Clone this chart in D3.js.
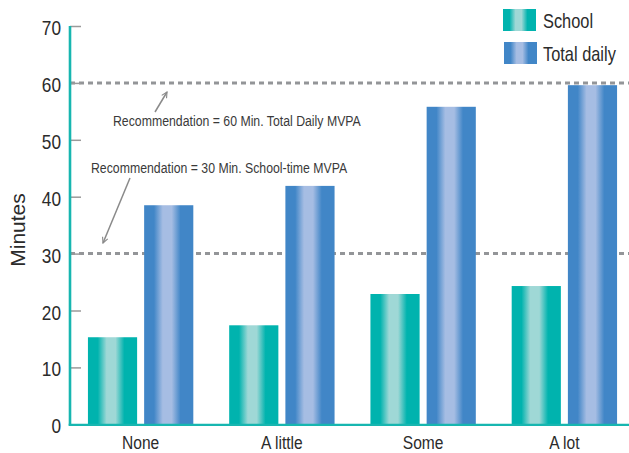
<!DOCTYPE html>
<html>
<head>
<meta charset="utf-8">
<script src="https://cdn.jsdelivr.net/npm/d3@7"></script>
<style>
  html, body { margin: 0; padding: 0; background: #fff; }
  svg { display: block; font-family: "Liberation Sans", Arial, sans-serif; }
</style>
</head>
<body>
<svg id="chart" width="629" height="453"></svg>
<script>
// Minutes of MVPA by category
const categories = ["None", "A little", "Some", "A lot"];
const seriesNames = ["School", "Total daily"];
const schoolValues = [15.3, 17.4, 22.9, 24.3];
const totalValues = [38.5, 41.9, 55.8, 59.6];
const yTicks = [0, 10, 20, 30, 40, 50, 60, 70];
const recommendations = [
  { value: 60, label: "Recommendation = 60 Min. Total Daily MVPA" },
  { value: 30, label: "Recommendation = 30 Min. School-time MVPA" }
];

const W = 629, H = 453;
const margin = { left: 70, top: 26, bottom: 28.7 };
const NARROW = 0.82; // horizontal squeeze for a condensed look
const FONT = "Liberation Sans, Arial, sans-serif";
const svg = d3.select("#chart");

const colors = {
  School: { dark: "#00b3ae", light: "#9fd8d6" },
  "Total daily": { dark: "#4186c7", light: "#a6bde3" }
};

// condensed text helper
function narrowText(sel, x, yPos, str, size, anchor, fill) {
  return sel.append("text")
    .attr("transform", `translate(${x},${yPos}) scale(${NARROW},1)`)
    .attr("text-anchor", anchor || "start")
    .attr("font-size", size)
    .attr("font-family", FONT)
    .attr("fill", fill || "#2b2b2b")
    .text(str);
}

// horizontal shading for the bars
const defs = svg.append("defs");
seriesNames.forEach((name, i) => {
  const g = defs.append("linearGradient")
    .attr("id", "grad" + i)
    .attr("x1", "0%").attr("x2", "100%").attr("y1", "0%").attr("y2", "0%");
  [[0, "dark"], [0.2, "dark"], [0.38, "light"], [0.56, "light"], [0.74, "dark"], [1, "dark"]]
    .forEach(([o, k]) => g.append("stop").attr("offset", o).attr("stop-color", colors[name][k]));
});
defs.append("marker")
  .attr("id", "arrowHead")
  .attr("viewBox", "0 0 10 10")
  .attr("refX", 9).attr("refY", 5)
  .attr("markerWidth", 7).attr("markerHeight", 7)
  .attr("markerUnits", "userSpaceOnUse")
  .attr("orient", "auto")
  .append("path")
  .attr("d", "M1,1 L9,5 L1,9")
  .attr("fill", "none")
  .attr("stroke", "#8a8a8a")
  .attr("stroke-width", 1.6);

const y = d3.scaleLinear().domain([0, 70]).range([H - margin.bottom, margin.top]);
const x0 = d3.scaleBand().domain(categories).range([margin.left, 635])
  .paddingInner(0.254).paddingOuter(0.127);
const x1 = d3.scaleBand().domain(seriesNames).range([0, x0.bandwidth()])
  .paddingInner(0.125).paddingOuter(0);

const y0 = y(0);

// reference dashed lines
svg.append("g").selectAll("line")
  .data(recommendations)
  .join("line")
  .attr("x1", margin.left).attr("x2", W)
  .attr("y1", d => y(d.value)).attr("y2", d => y(d.value))
  .attr("stroke", "#939598")
  .attr("stroke-width", 3)
  .attr("stroke-dasharray", "5,4");

// bars
const rows = categories.map((c, i) => ({ cat: c, vals: [schoolValues[i], totalValues[i]] }));
svg.append("g").selectAll("g")
  .data(rows)
  .join("g")
  .attr("transform", d => `translate(${x0(d.cat)},0)`)
  .selectAll("rect")
  .data(d => d.vals.map((v, i) => ({ name: seriesNames[i], v, i })))
  .join("rect")
  .attr("x", d => x1(d.name))
  .attr("width", x1.bandwidth())
  .attr("y", d => y(d.v))
  .attr("height", d => y0 - y(d.v))
  .attr("fill", d => `url(#grad${d.i})`);

// y axis: ticks from the axis generator, labels condensed
const yAxis = d3.axisLeft(y).tickValues(yTicks).tickSize(0).tickFormat("");
const yg = svg.append("g").attr("transform", `translate(${margin.left},0)`).call(yAxis);
yg.select(".domain").remove();
yg.selectAll(".tick text").remove();
yg.selectAll(".tick").append("line")
  .attr("x1", 0).attr("x2", 11)
  .attr("stroke", "#9a9a9a").attr("stroke-width", 1.5);
yg.selectAll(".tick").each(function (d) {
  narrowText(d3.select(this), -9, 8.5, d3.format("d")(d), 21, "end");
});

// axis lines
svg.append("line")
  .attr("x1", margin.left).attr("x2", margin.left)
  .attr("y1", y(70)).attr("y2", y0 + 1.2)
  .attr("stroke", "#17b6b0").attr("stroke-width", 2.6);
svg.append("line")
  .attr("x1", margin.left - 1.3).attr("x2", W)
  .attr("y1", y0 + 0.6).attr("y2", y0 + 0.6)
  .attr("stroke", "#17b6b0").attr("stroke-width", 2.4);

// x axis labels
const xl = svg.append("g");
categories.forEach(c => narrowText(xl, x0(c) + x0.bandwidth() / 2, 449, c, 19, "middle"));

// y axis title
svg.append("text")
  .attr("transform", "translate(25,230) rotate(-90)")
  .attr("text-anchor", "middle")
  .attr("font-size", 21)
  .attr("font-family", FONT)
  .attr("fill", "#2b2b2b")
  .text("Minutes");

// annotations
const notePos = [
  { x: 113, y: 126, from: [155, 112], to: [167, 92] },
  { x: 91, y: 173, from: [130, 178], to: [103, 243] }
];
recommendations.forEach((r, i) => {
  const p = notePos[i];
  narrowText(svg, p.x, p.y, r.label, 15, "start", "#3a3a3a");
  svg.append("line")
    .attr("x1", p.from[0]).attr("y1", p.from[1])
    .attr("x2", p.to[0]).attr("y2", p.to[1])
    .attr("stroke", "#8a8a8a").attr("stroke-width", 1.5)
    .attr("marker-end", "url(#arrowHead)");
});

// legend
const legend = svg.append("g");
const legendPos = [{ sx: 503, sy: 9, ty: 28 }, { sx: 504, sy: 42, ty: 61 }];
seriesNames.forEach((name, i) => {
  const p = legendPos[i];
  legend.append("rect")
    .attr("x", p.sx).attr("y", p.sy)
    .attr("width", 33).attr("height", 22)
    .attr("fill", `url(#grad${i})`);
  narrowText(legend, 543, p.ty, name, 20, "start");
});
</script>
</body>
</html>
